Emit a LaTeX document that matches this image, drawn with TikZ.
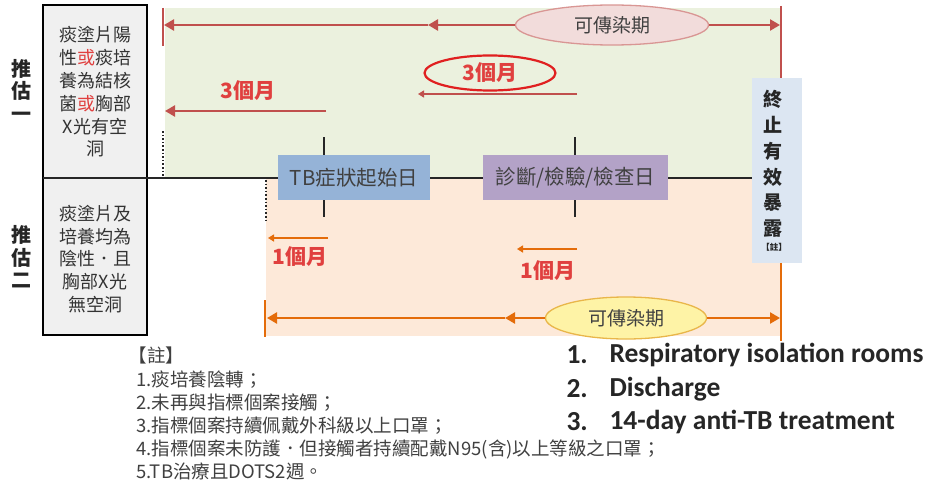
\documentclass[tikz,border=0pt]{standalone}
\usepackage{fontspec}
\setmainfont{Noto Sans CJK TC}
\newfontfamily\calfont{Carlito}
\usetikzlibrary{arrows.meta,shapes.geometric}
\definecolor{bggreen}{HTML}{EBF1DE}
\definecolor{bgpeach}{HTML}{FDE9D9}
\definecolor{redline}{HTML}{C0504D}
\definecolor{orline}{HTML}{E46C0A}
\definecolor{pinkfill}{HTML}{F2DCDB}
\definecolor{pinkdraw}{HTML}{D99694}
\definecolor{yelfill}{HTML}{FEF3A6}
\definecolor{yeldraw}{HTML}{E9B64A}
\definecolor{bluebox}{HTML}{95B3D7}
\definecolor{purbox}{HTML}{B3A2C7}
\definecolor{endbox}{HTML}{DCE6F2}
\definecolor{leftfill}{HTML}{F0F0F0}
\definecolor{redtxt}{HTML}{E0403F}
\definecolor{txtgray}{HTML}{404040}
\definecolor{ovalred}{HTML}{E02020}
\tikzset{
  redarr/.style={draw=redline,line width=2.4pt,-{Triangle[length=10pt,width=11pt]}},
  orarr/.style={draw=orline,line width=2.4pt,-{Triangle[length=10pt,width=11pt]}},
  smallred/.style={draw=redline,line width=2.2pt,-{Triangle[length=6pt,width=7pt]}},
  smallor/.style={draw=orline,line width=2.2pt,-{Triangle[length=6pt,width=7pt]}},
  datebox/.style={rectangle,minimum height=45pt,inner sep=0pt,text=txtgray,font=\fontsize{20.5}{20.5}\selectfont},
  lefttxt/.style={align=center,text=black!80,font=\fontsize{18}{22.8}\selectfont},
  vlabel/.style={align=center,text=black!85,font=\bfseries\fontsize{20}{22.5}\selectfont},
  monlabel/.style={text=redtxt,font=\bfseries\fontsize{21}{21}\selectfont},
  note/.style={anchor=west,text=txtgray,font=\fontsize{18.5}{18.5}\selectfont},
  eng/.style={anchor=west,text=black!85,font=\calfont\bfseries\fontsize{27.5}{27.5}\selectfont},
  tick/.style={draw=black!85,line width=2pt},
  dotv/.style={draw=black!85,line width=2pt,dash pattern=on 1.6pt off 2pt}
}
\begin{document}
\begin{tikzpicture}[x=1pt,y=-1pt]
\useasboundingbox (0,0) rectangle (933,484);
% background areas
\fill[bggreen] (165,8) rectangle (781,178);
\fill[bgpeach] (266,178) rectangle (781,336);
% left boxes
\node[draw=black,line width=2pt,fill=leftfill,minimum width=104pt,minimum height=173pt,inner sep=0pt] (box1) at (95,91.5) {};
\node[draw=black,line width=2pt,fill=leftfill,minimum width=104pt,minimum height=157pt,inner sep=0pt] (box2) at (95,256.5) {};
\node[lefttxt] (t1) at (95,92) {痰塗片陽\\性{\color{redtxt}或}痰培\\養為結核\\菌{\color{redtxt}或}胸部\\X光有空\\洞};
\node[lefttxt] (t2) at (95,259) {痰塗片及\\培養均為\\陰性．且\\胸部X光\\無空洞};
\node[vlabel] (e1) at (22,90) {推\\估\\一};
\node[vlabel] (e2) at (22,257) {推\\估\\二};
% timeline
\coordinate (tlL) at (43,178);
\coordinate (tlR) at (760,178);
\draw[black!85,line width=2pt] (tlL) -- (tlR);
% ticks
\coordinate (k1a) at (324,137); \coordinate (k1b) at (324,217);
\coordinate (k2a) at (575,137); \coordinate (k2b) at (575,217);
\draw[tick] (k1a) -- (k1b);
\draw[tick] (k2a) -- (k2b);
% dotted verticals
\coordinate (d1a) at (163,131); \coordinate (d1b) at (163,176);
\coordinate (d2a) at (266,180); \coordinate (d2b) at (266,222);
\draw[dotv] (d1a) -- (d1b);
\draw[dotv] (d2a) -- (d2b);
% date boxes
\node[datebox,fill=bluebox,minimum width=152pt] (tb) at (354,177.5) {TB症狀起始日};
\node[datebox,fill=purbox,minimum width=185pt] (dx) at (575.5,177.5) {診斷/檢驗/檢查日};
% right vertical line
\coordinate (rTop) at (781,6);
\coordinate (rMid) at (781,178);
\coordinate (rBot) at (781,341);
\draw[redline,line width=2.2pt] (rTop) -- (rMid);
\draw[orline,line width=2.2pt] (rMid) -- (rBot);
\node[fill=endbox,minimum width=50pt,minimum height=185pt,inner sep=0pt] (endb) at (777,170.5) {};
\node[align=center,text=black!85,font=\bfseries\fontsize{19}{25.8}\selectfont] (endt) at (773,164) {終\\止\\有\\效\\暴\\露};
\node[text=black!85,font=\bfseries\fontsize{8.5}{8.5}\selectfont] (endn) at (774,247) {【註】};
% top infectious period
\coordinate (tbarA) at (163,8); \coordinate (tbarB) at (163,46);
\draw[redline,line width=2.4pt] (tbarA) -- (tbarB);
\coordinate (tL) at (164,25);
\coordinate (tM) at (428,25);
\coordinate (tR) at (780,25);
\node[ellipse,draw=pinkdraw,line width=1.3pt,fill=pinkfill,minimum width=193pt,minimum height=40pt,inner sep=0pt,text=txtgray,font=\fontsize{19}{19}\selectfont] (ip1) at (612,25) {可傳染期};
\draw[redarr] (ip1.west) -- (tM);
\draw[redarr] (tM) -- (tL);
\draw[redarr] (ip1.east) -- (tR);
% left 3 months
\coordinate (a1R) at (326,111); \coordinate (a1L) at (165,111);
\draw[redarr] (a1R) -- (a1L);
\node[monlabel] (m1) at (248,91) {3個月};
% center 3 months
\node[ellipse,draw=ovalred,line width=2.2pt,minimum width=131pt,minimum height=35pt,inner sep=0pt,monlabel] (m2) at (490,73) {3個月};
\coordinate (a2R) at (577,94); \coordinate (a2L) at (418,94);
\draw[smallred] (a2R) -- (a2L);
% 1 month arrows
\coordinate (a3R) at (328,238); \coordinate (a3L) at (268,238);
\draw[smallor] (a3R) -- (a3L);
\node[monlabel] (m3) at (300,257) {1個月};
\coordinate (a4R) at (577,249); \coordinate (a4L) at (517,249);
\draw[smallor] (a4R) -- (a4L);
\node[monlabel] (m4) at (548,271) {1個月};
% bottom infectious period
\coordinate (bbarA) at (265,300); \coordinate (bbarB) at (265,337);
\draw[orline,line width=2.4pt] (bbarA) -- (bbarB);
\coordinate (bL) at (267,318);
\coordinate (bM) at (505,318);
\coordinate (bR) at (780,318);
\node[ellipse,draw=yeldraw,line width=1.3pt,fill=yelfill,minimum width=161pt,minimum height=42pt,inner sep=0pt,text=txtgray,font=\fontsize{19}{19}\selectfont] (ip2) at (626,318) {可傳染期};
\draw[orarr] (ip2.west) -- (bM);
\draw[orarr] (bM) -- (bL);
\draw[orarr] (ip2.east) -- (bR);
% notes
\node[note] (n0) at (125,355) {【註】};
\node[note] (n1) at (133,380) {1.痰培養陰轉；};
\node[note] (n2) at (133,403) {2.未再與指標個案接觸；};
\node[note] (n3) at (133,426) {3.指標個案持續佩戴外科級以上口罩；};
\node[note] (n4) at (133,449) {4.指標個案未防護．但接觸者持續配戴N95(含)以上等級之口罩；};
\node[note] (n5) at (133,471) {5.TB治療且DOTS2週。};
% english list
\node[eng] (g1n) at (563,355) {1.};
\node[eng] (g1) at (606,355) {Respiratory isolation rooms};
\node[eng] (g2n) at (563,389) {2.};
\node[eng] (g2) at (606,389) {Discharge};
\node[eng] (g3n) at (563,422) {3.};
\node[eng] (g3) at (606,422) {14-day anti-TB treatment};
\end{tikzpicture}
\end{document}
